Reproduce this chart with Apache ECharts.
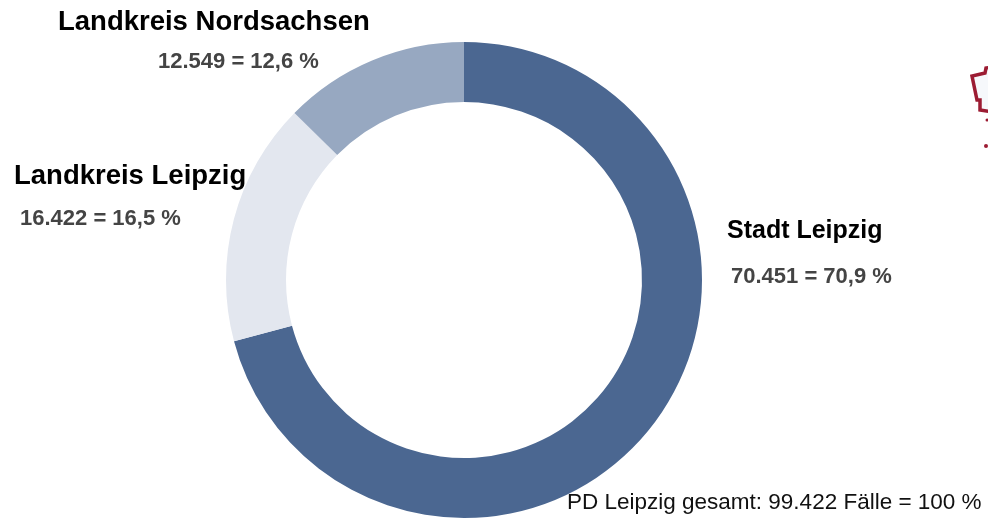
<!DOCTYPE html>
<html>
<head>
<meta charset="utf-8">
<script src="https://cdn.jsdelivr.net/npm/echarts@6/dist/echarts.min.js"></script>
<style>
  html, body { margin: 0; padding: 0; background: #fff; }
  #chart { width: 988px; height: 518px; }
</style>
</head>
<body>
<div id="chart"></div>
<script>
// Fälle nach Gebiet (PD Leipzig)
var regions = ['Stadt Leipzig', 'Landkreis Leipzig', 'Landkreis Nordsachsen'];
var cases = [70451, 16422, 12549];
var sliceColors = ['#4b6791', '#e3e7ef', '#97a8c1'];
var totalLabel = 'PD Leipzig gesamt';

var total = cases.reduce(function (a, b) { return a + b; }, 0);

function fmtThousands(n) {
    return String(n).replace(/\B(?=(\d{3})+(?!\d))/g, '.');
}
function fmtPercent(v) {
    return (v / total * 100).toFixed(1).replace('.', ',');
}

// label layout (middle of text): [titleX, titleY, valueX, valueY, titleSize]
var labelPos = [
    [727, 231, 731, 277, 25],
    [14, 176, 20, 219, 27.5],
    [58, 22, 158, 62, 27.5]
];

var font = '"Liberation Sans", Arial, sans-serif';
var texts = [];
regions.forEach(function (name, i) {
    var p = labelPos[i];
    texts.push({
        type: 'text', x: p[0], y: p[1], z: 10,
        style: { text: name, font: 'bold ' + p[4] + 'px ' + font, fill: '#000', verticalAlign: 'middle' }
    });
    texts.push({
        type: 'text', x: p[2], y: p[3], z: 10,
        style: {
            text: fmtThousands(cases[i]) + ' = ' + fmtPercent(cases[i]) + ' %',
            font: 'bold 22px ' + font, fill: '#444', verticalAlign: 'middle'
        }
    });
});
texts.push({
    type: 'text', x: 567, y: 503, z: 10,
    style: {
        text: totalLabel + ': ' + fmtThousands(total) + ' Fälle = 100 %',
        font: '22.5px ' + font, fill: '#111', verticalAlign: 'middle'
    }
});
// partial logo outline at the right edge
texts.push({
    type: 'polyline', z: 10,
    shape: { points: [[992, 67], [986, 68], [985, 73], [972, 76], [977, 100], [980, 100], [980, 110], [992, 112]] },
    style: { stroke: '#9c1c33', lineWidth: 3.5, fill: '#f6f8fb', lineJoin: 'miter' }
});
texts.push({ type: 'circle', z: 10, shape: { cx: 987, cy: 120, r: 1.5 }, style: { fill: '#9c1c33' } });
texts.push({ type: 'circle', z: 10, shape: { cx: 986, cy: 146, r: 2 }, style: { fill: '#9c1c33' } });

var chart = echarts.init(document.getElementById('chart'));
var option = {
    animation: false,
    color: sliceColors,
    graphic: texts,
    series: [{
        type: 'pie',
        center: [464, 280],
        radius: [178, 238],
        startAngle: 90,
        clockwise: true,
        label: { show: false },
        labelLine: { show: false },
        emphasis: { disabled: true },
        data: regions.map(function (name, i) {
            return { name: name, value: cases[i] };
        })
    }]
};
chart.setOption(option);
</script>
</body>
</html>
